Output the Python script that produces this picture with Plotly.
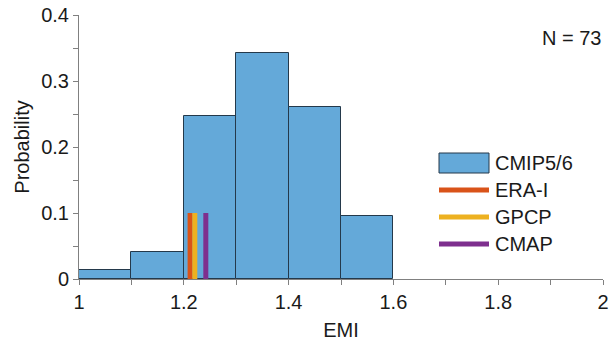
import plotly.graph_objects as go

bin_edges = [1.0, 1.1, 1.2, 1.3, 1.4, 1.5, 1.6]
counts = [1, 3, 18, 25, 19, 7]
n_models = 73
probs = [c / n_models for c in counts]
centers = [(bin_edges[i] + bin_edges[i + 1]) / 2 for i in range(len(counts))]

obs_names = ["ERA-I", "GPCP", "CMAP"]
obs_values = [1.212, 1.221, 1.242]
obs_height = 0.1
obs_colors = ["#D95319", "#EDB120", "#7E2F8E"]

bar_color = "#64A9D9"
edge_color = "#24394B"
font_family = "Liberation Sans, Arial, Helvetica, sans-serif"
text_color = "#1a1a1a"
fs = 20

fig = go.Figure()
fig.add_trace(go.Bar(x=centers, y=probs, width=0.1, marker=dict(color=bar_color,
                     line=dict(color=edge_color, width=1)), name="CMIP5/6", showlegend=False))
for name, v, c in zip(obs_names, obs_values, obs_colors):
    fig.add_trace(go.Scatter(x=[v, v], y=[0, obs_height], mode="lines",
                             line=dict(color=c, width=5), name=name, showlegend=False))

# custom legend (paper coords)
L, R, T, B = 79, 603, 15, 279
W, H = R - L, B - T
def px(x):
    return (x - L) / W
def py(y):
    return (B - y) / H

legend_rows = [163, 190, 217, 244]
labels = ["CMIP5/6"] + obs_names
fig.add_shape(type="rect", xref="paper", yref="paper", x0=px(439), x1=px(489),
              y0=py(173), y1=py(153), fillcolor=bar_color, line=dict(color=edge_color, width=1))
for yy, c in zip(legend_rows[1:], obs_colors):
    fig.add_shape(type="line", xref="paper", yref="paper", x0=px(439), x1=px(489),
                  y0=py(yy), y1=py(yy), line=dict(color=c, width=5))
for yy, lab in zip(legend_rows, labels):
    fig.add_annotation(xref="paper", yref="paper", x=px(493), y=py(yy), text=lab,
                       showarrow=False, xanchor="left", yanchor="middle",
                       font=dict(size=fs, color=text_color, family=font_family))

fig.add_annotation(xref="paper", yref="paper", x=px(603), y=py(38), text=f"N = {n_models}",
                   showarrow=False, xanchor="right", yanchor="middle",
                   font=dict(size=fs, color=text_color, family=font_family))

axis_common = dict(showline=True, linecolor="#808080", linewidth=1, ticks="outside",
                   ticklen=5, tickcolor="#808080", showgrid=False, zeroline=False,
                   automargin=False,
                   tickfont=dict(size=fs, color=text_color, family=font_family))
fig.update_xaxes(range=[1, 2], tickvals=[1, 1.2, 1.4, 1.6, 1.8, 2],
                 ticktext=["1", "1.2", "1.4", "1.6", "1.8", "2"],
                 minor=dict(tickvals=[1.1, 1.3, 1.5, 1.7, 1.9], ticks="outside", ticklen=5, tickcolor="#808080"),
                 title=dict(text="EMI", font=dict(size=fs, color=text_color, family=font_family), standoff=10),
                 **axis_common)
fig.update_yaxes(range=[0, 0.4], tickvals=[0, 0.1, 0.2, 0.3, 0.4],
                 ticktext=["0", "0.1", "0.2", "0.3", "0.4"],
                 minor=dict(tickvals=[0.05, 0.15, 0.25, 0.35], ticks="outside", ticklen=5, tickcolor="#808080"),
                 title=dict(text="Probability", font=dict(size=fs, color=text_color, family=font_family), standoff=6),
                 **axis_common)
fig.update_layout(width=611, height=342, margin=dict(l=L, r=611 - R, t=T, b=342 - B),
                  plot_bgcolor="white", paper_bgcolor="white", bargap=0)
fig.write_html("out.html")
